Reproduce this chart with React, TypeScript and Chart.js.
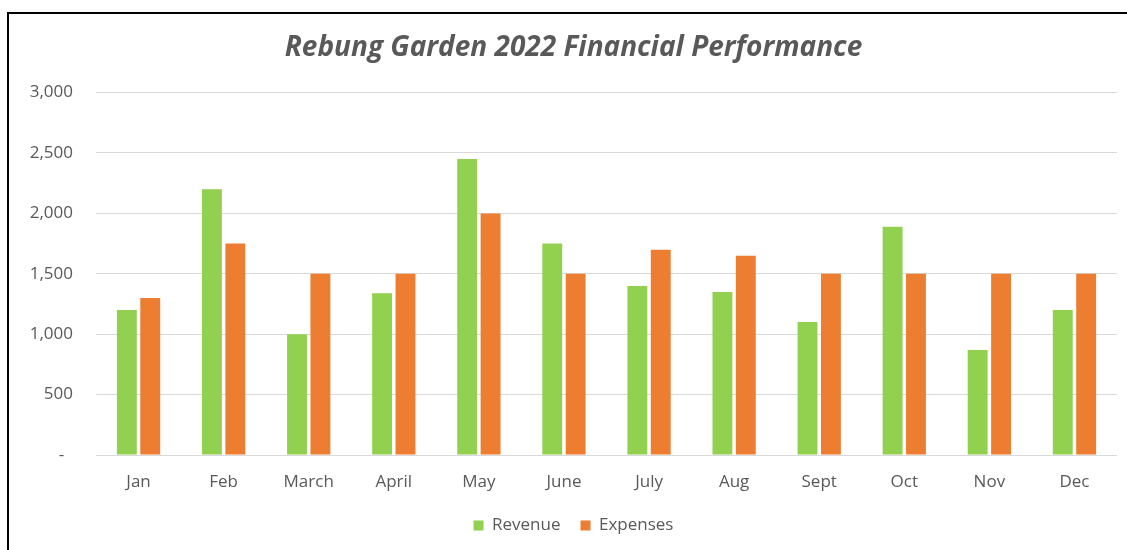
import React, { useEffect, useRef } from "react";
import { Chart, registerables } from "chart.js";

Chart.register(...registerables);

const months = ["Jan", "Feb", "March", "April", "May", "June", "July", "Aug", "Sept", "Oct", "Nov", "Dec"];
const revenue = [1200, 2200, 1000, 1340, 2450, 1750, 1400, 1350, 1100, 1890, 870, 1200];
const expenses = [1300, 1750, 1500, 1500, 2000, 1500, 1700, 1650, 1500, 1500, 1500, 1500];
const yTickLabels = ["-  ", "500", "1,000", "1,500", "2,000", "2,500", "3,000"];

const TEXT = "#595959";
const FONT = "'Open Sans', sans-serif";

export default function App() {
  const ref = useRef<HTMLCanvasElement | null>(null);

  useEffect(() => {
    document.body.style.overflow = "hidden";
    const canvas = ref.current;
    if (!canvas) return;
    const chart = new Chart(canvas, {
      type: "bar",
      data: {
        labels: months,
        datasets: [
          {
            label: "Revenue",
            data: revenue,
            backgroundColor: "#92D050",
            categoryPercentage: 0.55,
            barPercentage: 0.85,
          },
          {
            label: "Expenses",
            data: expenses,
            backgroundColor: "#ED7D31",
            categoryPercentage: 0.55,
            barPercentage: 0.85,
          },
        ],
      },
      options: {
        animation: false,
        responsive: false,
        maintainAspectRatio: false,
        layout: { padding: { left: 30, right: 30, top: 0, bottom: 6 } },
        plugins: {
          title: {
            display: true,
            text: "Rebung Garden 2022 Financial Performance",
            color: TEXT,
            font: { family: FONT, size: 28, weight: "bold", style: "italic" },
            padding: { top: 31, bottom: 28 },
          },
          legend: {
            position: "bottom",
            labels: {
              color: TEXT,
              font: { family: FONT, size: 17 },
              boxWidth: 10,
              boxHeight: 10,
              padding: 20,
            },
          },
          tooltip: { enabled: false },
        },
        scales: {
          x: {
            grid: { display: false },
            border: { display: false },
            ticks: { color: TEXT, font: { family: FONT, size: 17 }, padding: 9 },
            afterFit: (s: any) => {
              s.height = 42;
            },
          },
          y: {
            min: 0,
            max: 3000,
            border: { display: false },
            grid: { color: "#d9d9d9", drawTicks: false, lineWidth: 1 },
            ticks: {
              stepSize: 500,
              color: TEXT,
              font: { family: FONT, size: 17 },
              padding: 23,
              callback: (v: any) => yTickLabels[Math.round(Number(v) / 500)],
            },
            afterFit: (s: any) => {
              s.width = 66;
            },
          },
        },
      },
    });
    return () => chart.destroy();
  }, []);

  return (
    <div
      style={{
        position: "fixed",
        left: 0,
        top: 0,
        width: 1127,
        height: 550,
        overflow: "hidden",
        background: "#fff",
      }}
    >
      <div
        style={{
          position: "absolute",
          left: 7,
          top: 12,
          width: 1200,
          height: 700,
          border: "2px solid #000",
          boxSizing: "border-box",
        }}
      />
      <canvas
        ref={ref}
        width={1147}
        height={550}
        style={{ position: "absolute", left: 0, top: 0, width: 1147, height: 550 }}
      />
    </div>
  );
}
